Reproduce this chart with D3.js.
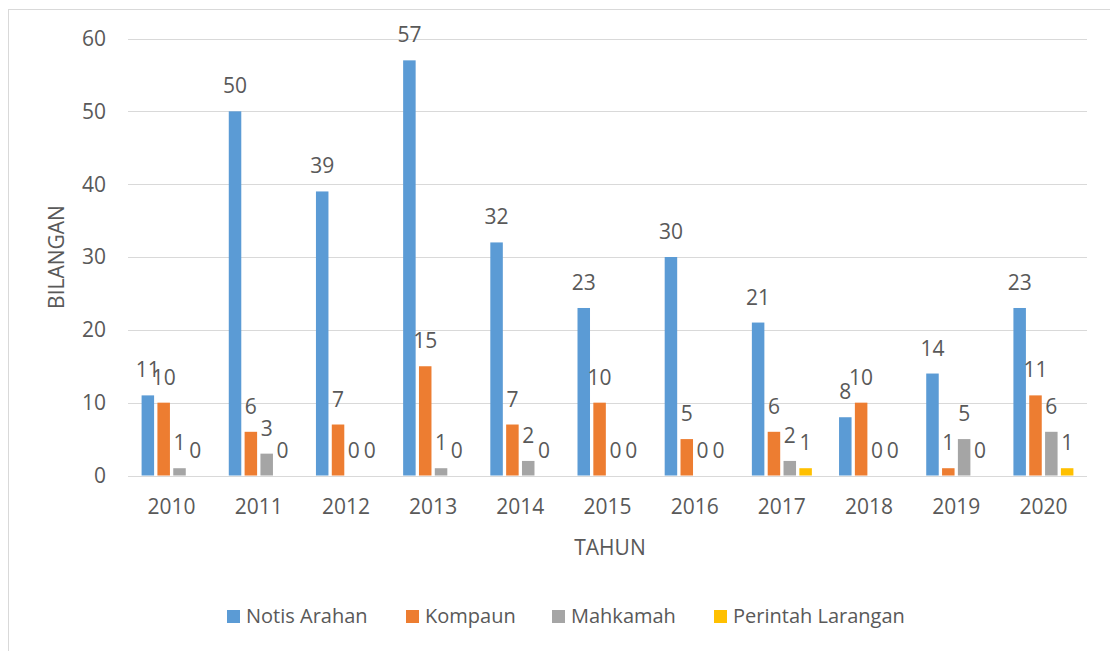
<!DOCTYPE html>
<html>
<head>
<meta charset="utf-8">
<script src="https://cdn.jsdelivr.net/npm/d3@7"></script>
<style>
  body { margin: 0; background: #fff; }
  svg text { font-family: "Open Sans", sans-serif; fill: #595959; }
</style>
</head>
<body>
<svg id="chart" width="1110" height="651"></svg>
<script>
// data
const years = ["2010", "2011", "2012", "2013", "2014", "2015", "2016", "2017", "2018", "2019", "2020"];
const seriesNames = ["Notis Arahan", "Kompaun", "Mahkamah", "Perintah Larangan"];
const notisArahan = [11, 50, 39, 57, 32, 23, 30, 21, 8, 14, 23];
const kompaun = [10, 6, 7, 15, 7, 10, 5, 6, 10, 1, 11];
const mahkamah = [1, 3, 0, 1, 2, 0, 0, 2, 0, 5, 6];
const perintahLarangan = [0, 0, 0, 0, 0, 0, 0, 1, 0, 0, 1];
const yTicks = [0, 10, 20, 30, 40, 50, 60];

const colors = ["#5B9BD5", "#ED7D31", "#A5A5A5", "#FFC000"];
const allSeries = [notisArahan, kompaun, mahkamah, perintahLarangan];

const svg = d3.select("#chart");
const plot = { left: 128, right: 1087, top: 38.5, bottom: 475.5 };

// outer frame of the chart area
svg.append("rect")
    .attr("x", 8.5).attr("y", 9.5)
    .attr("width", 1120).attr("height", 660)
    .attr("fill", "none").attr("stroke", "#D9D9D9");

const x = d3.scaleBand().domain(years).range([plot.left, plot.right]);
const y = d3.scaleLinear().domain([0, 60]).range([plot.bottom, plot.top]);

const groupW = 60;
const xInner = d3.scaleBand().domain(seriesNames).range([0, groupW]).paddingInner(0.21);

// gridlines
svg.append("g").selectAll("line")
    .data(yTicks)
    .join("line")
    .attr("x1", plot.left).attr("x2", plot.right)
    .attr("y1", d => Math.round(y(d)) + 0.5).attr("y2", d => Math.round(y(d)) + 0.5)
    .attr("stroke", "#D9D9D9").attr("stroke-width", 1);

// y tick labels
svg.append("g").selectAll("text")
    .data(yTicks)
    .join("text")
    .attr("x", 106).attr("y", d => y(d))
    .attr("dy", "0.35em")
    .attr("text-anchor", "end")
    .style("font-size", "21px")
    .text(d => d);

// x tick labels
svg.append("g").selectAll("text")
    .data(years)
    .join("text")
    .attr("x", d => x(d) + x.bandwidth() / 2)
    .attr("y", 514)
    .attr("text-anchor", "middle")
    .style("font-size", "21px")
    .text(d => d);

// bars + labels
const groups = svg.append("g").selectAll("g")
    .data(years)
    .join("g")
    .attr("transform", d => `translate(${x(d) + x.bandwidth() / 2 - groupW / 2},0)`);

seriesNames.forEach((name, si) => {
    groups.append("rect")
        .attr("x", xInner(name))
        .attr("width", xInner.bandwidth())
        .attr("y", (d, i) => y(allSeries[si][i]))
        .attr("height", (d, i) => y(0) - y(allSeries[si][i]))
        .attr("fill", colors[si]);
    groups.append("text")
        .attr("x", xInner(name) + xInner.bandwidth() / 2)
        .attr("y", (d, i) => y(allSeries[si][i]) - 18)
        .attr("text-anchor", "middle")
        .style("font-size", "21px")
        .text((d, i) => allSeries[si][i]);
});

// axis titles
svg.append("text")
    .attr("transform", "translate(64,257) rotate(-90)")
    .attr("text-anchor", "middle")
    .style("font-size", "21px")
    .text("BILANGAN");

svg.append("text")
    .attr("x", 610).attr("y", 555)
    .attr("text-anchor", "middle")
    .style("font-size", "21px")
    .text("TAHUN");

// legend
const legendX = [227, 406, 552, 714];
const legend = svg.append("g").selectAll("g")
    .data(seriesNames)
    .join("g")
    .attr("transform", (d, i) => `translate(${legendX[i]},610)`);
legend.append("rect")
    .attr("width", 13).attr("height", 13)
    .attr("fill", (d, i) => colors[i]);
legend.append("text")
    .attr("x", 19).attr("y", 13)
    .style("font-size", "20px")
    .text(d => d);
</script>
</body>
</html>
